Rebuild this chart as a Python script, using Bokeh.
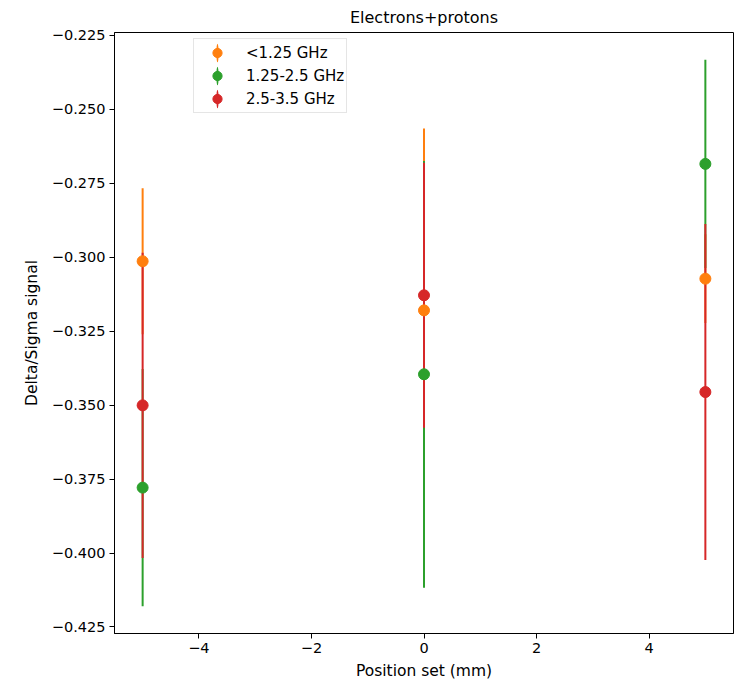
import numpy as np
from bokeh.plotting import figure
from bokeh.models import (ColumnDataSource, FixedTicker, CustomJSTickFormatter,
                          Legend, LegendItem, Range1d)
from bokeh.embed import file_html
from bokeh.resources import INLINE

# Measured Delta/Sigma signal per position set, split by frequency band
positions = [-5, 0, 5]

band_labels = ["<1.25 GHz", "1.25-2.5 GHz", "2.5-3.5 GHz"]
band_colors = ["#ff7f0e", "#2ca02c", "#d62728"]

low_vals = [-0.3014, -0.3180, -0.3073]
low_errs = [0.0247, 0.0615, 0.0150]

mid_vals = [-0.3779, -0.3396, -0.2685]
mid_errs = [0.0401, 0.0721, 0.0352]

high_vals = [-0.3501, -0.3129, -0.3456]
high_errs = [0.0516, 0.0448, 0.0568]

x_ticks = [-4, -2, 0, 2, 4]
y_ticks = [-0.425, -0.4, -0.375, -0.35, -0.325, -0.3, -0.275, -0.25, -0.225]

FONT = "DejaVu Sans"

p = figure(width=734, height=682, output_backend="svg", toolbar_location=None,
           title="Electrons+protons",
           x_range=Range1d(-5.5, 5.5), y_range=Range1d(-0.4272, -0.2241),
           min_border_left=114, min_border_right=1,
           min_border_top=31, min_border_bottom=49)

p.title.align = "center"
p.title.text_font = FONT
p.title.text_font_size = "16px"
p.title.text_font_style = "normal"
p.title.text_color = "black"
p.title.offset = 0
p.title.standoff = 11

p.xgrid.visible = False
p.ygrid.visible = False
p.outline_line_color = "black"
p.outline_line_width = 1
p.background_fill_color = "white"
p.border_fill_color = "white"

for ax in (p.xaxis[0], p.yaxis[0]):
    ax.axis_line_color = "black"
    ax.major_tick_line_color = "black"
    ax.major_tick_out = 5
    ax.major_tick_in = 0
    ax.minor_tick_line_color = None
    ax.major_label_text_font = FONT
    ax.major_label_text_font_size = "14.5px"
    ax.major_label_text_color = "black"
    ax.axis_label_text_font = FONT
    ax.axis_label_text_font_size = "15.5px"
    ax.axis_label_text_font_style = "normal"
    ax.axis_label_text_color = "black"

p.xaxis.ticker = FixedTicker(ticks=x_ticks)
p.yaxis.ticker = FixedTicker(ticks=y_ticks)
p.xaxis.formatter = CustomJSTickFormatter(
    code="return (tick < 0 ? '\\u2212' : '') + Math.abs(tick).toFixed(0);")
p.yaxis.formatter = CustomJSTickFormatter(
    code="return (tick < 0 ? '\\u2212' : '') + Math.abs(tick).toFixed(3);")
p.xaxis.axis_label = "Position set (mm)"
p.yaxis.axis_label = "Delta/Sigma signal"
p.xaxis.major_label_standoff = 4
p.yaxis.major_label_standoff = 4
p.xaxis.axis_label_standoff = 6
p.yaxis.axis_label_standoff = 8

series = [(low_vals, low_errs), (mid_vals, mid_errs), (high_vals, high_errs)]
sources = []
for vals, errs in series:
    v = np.array(vals)
    e = np.array(errs)
    sources.append(ColumnDataSource(dict(x=positions, y=v, lo=v - e, hi=v + e)))

# error bars first, then the markers on top
for src, col in zip(sources, band_colors):
    p.segment(x0="x", y0="lo", x1="x", y1="hi", source=src,
              line_color=col, line_width=2)

items = []
for src, col, lab in zip(sources, band_colors, band_labels):
    # thin upright ellipse that only shows up as the legend's error-bar stroke
    bar = p.ellipse(x=[100.0], y=[100.0], width=2, height=16,
                    width_units="screen", height_units="screen",
                    fill_color=col, line_color=None)
    dots = p.scatter(x="x", y="y", source=src, size=11, marker="circle",
                     fill_color=col, line_color=col)
    items.append(LegendItem(label=lab, renderers=[bar, dots]))

legend = Legend(items=items, location=(79, 520), margin=0,
                label_text_font=FONT, label_text_font_size="15px",
                label_text_color="black", label_standoff=8,
                glyph_width=42, glyph_height=23, label_height=23, spacing=0,
                padding=2, border_line_color="#cccccc", border_line_width=1,
                background_fill_alpha=0.8)
p.add_layout(legend, "center")

open("out.html", "w").write(file_html(p, INLINE))
